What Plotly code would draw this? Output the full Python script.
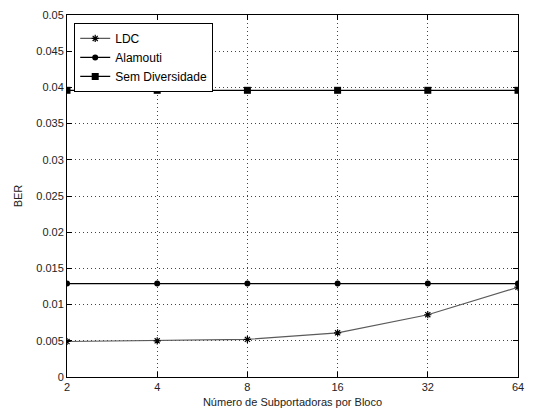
import plotly.graph_objects as go

# Number of subcarriers per block (log2 axis)
subcarriers = [2, 4, 8, 16, 32, 64]
tick_labels = ["2", "4", "8", "16", "32", "64"]

# Bit error rate per scheme
ber_ldc = [0.0049, 0.0050, 0.0052, 0.0061, 0.0086, 0.0124]
ber_alamouti = [0.0129, 0.0129, 0.0129, 0.0129, 0.0129, 0.0129]
ber_sem_diversidade = [0.0396, 0.0396, 0.0396, 0.0396, 0.0396, 0.0396]

y_ticks = [0, 0.005, 0.01, 0.015, 0.02, 0.025, 0.03, 0.035, 0.04, 0.045, 0.05]
y_tick_text = ["0", "0.005", "0.01", "0.015", "0.02", "0.025", "0.03", "0.035", "0.04", "0.045", "0.05"]

font_family = "Liberation Sans, Arial, sans-serif"

fig = go.Figure()
fig.add_trace(go.Scatter(
    x=subcarriers, y=ber_ldc, name="LDC", mode="lines+markers",
    line=dict(color="#5a5a5a", width=1.2),
    marker=dict(symbol="asterisk-open", size=6, color="black",
                line=dict(color="black", width=1.2)),
))
fig.add_trace(go.Scatter(
    x=subcarriers, y=ber_alamouti, name="Alamouti", mode="lines+markers",
    line=dict(color="black", width=1.2),
    marker=dict(symbol="circle", size=6, color="black"),
))
fig.add_trace(go.Scatter(
    x=subcarriers, y=ber_sem_diversidade, name="Sem Diversidade", mode="lines+markers",
    line=dict(color="black", width=1.2),
    marker=dict(symbol="square", size=7, color="black"),
))

axis_common = dict(
    showline=True, linecolor="black", linewidth=1, mirror="ticks",
    ticks="inside", ticklen=5, tickcolor="black",
    showgrid=True, gridcolor="#444444", gridwidth=1, griddash="1px,3px",
    zeroline=False,
    tickfont=dict(family=font_family, size=11, color="#222222"),
)

fig.update_xaxes(
    type="log", range=[0.30103, 1.80618],
    tickvals=subcarriers, ticktext=tick_labels,
    title=dict(text="Número de Subportadoras por Bloco", standoff=6,
               font=dict(family=font_family, size=11, color="#222222")),
    **axis_common,
)
fig.update_yaxes(
    range=[0, 0.05], tickvals=y_ticks, ticktext=y_tick_text,
    title=dict(text="BER", standoff=11,
               font=dict(family=font_family, size=11, color="#222222")),
    **axis_common,
)

fig.update_layout(
    width=533, height=417,
    margin=dict(l=67, r=9, t=14, b=40),
    paper_bgcolor="white", plot_bgcolor="white",
    font=dict(family=font_family, size=11, color="#222222"),
    legend=dict(
        x=0.016, y=0.978, xanchor="left", yanchor="top",
        bgcolor="white", bordercolor="black", borderwidth=1,
        font=dict(family=font_family, size=12, color="black"),
        tracegroupgap=0, itemwidth=30,
    ),
)

fig.write_html("out.html")
